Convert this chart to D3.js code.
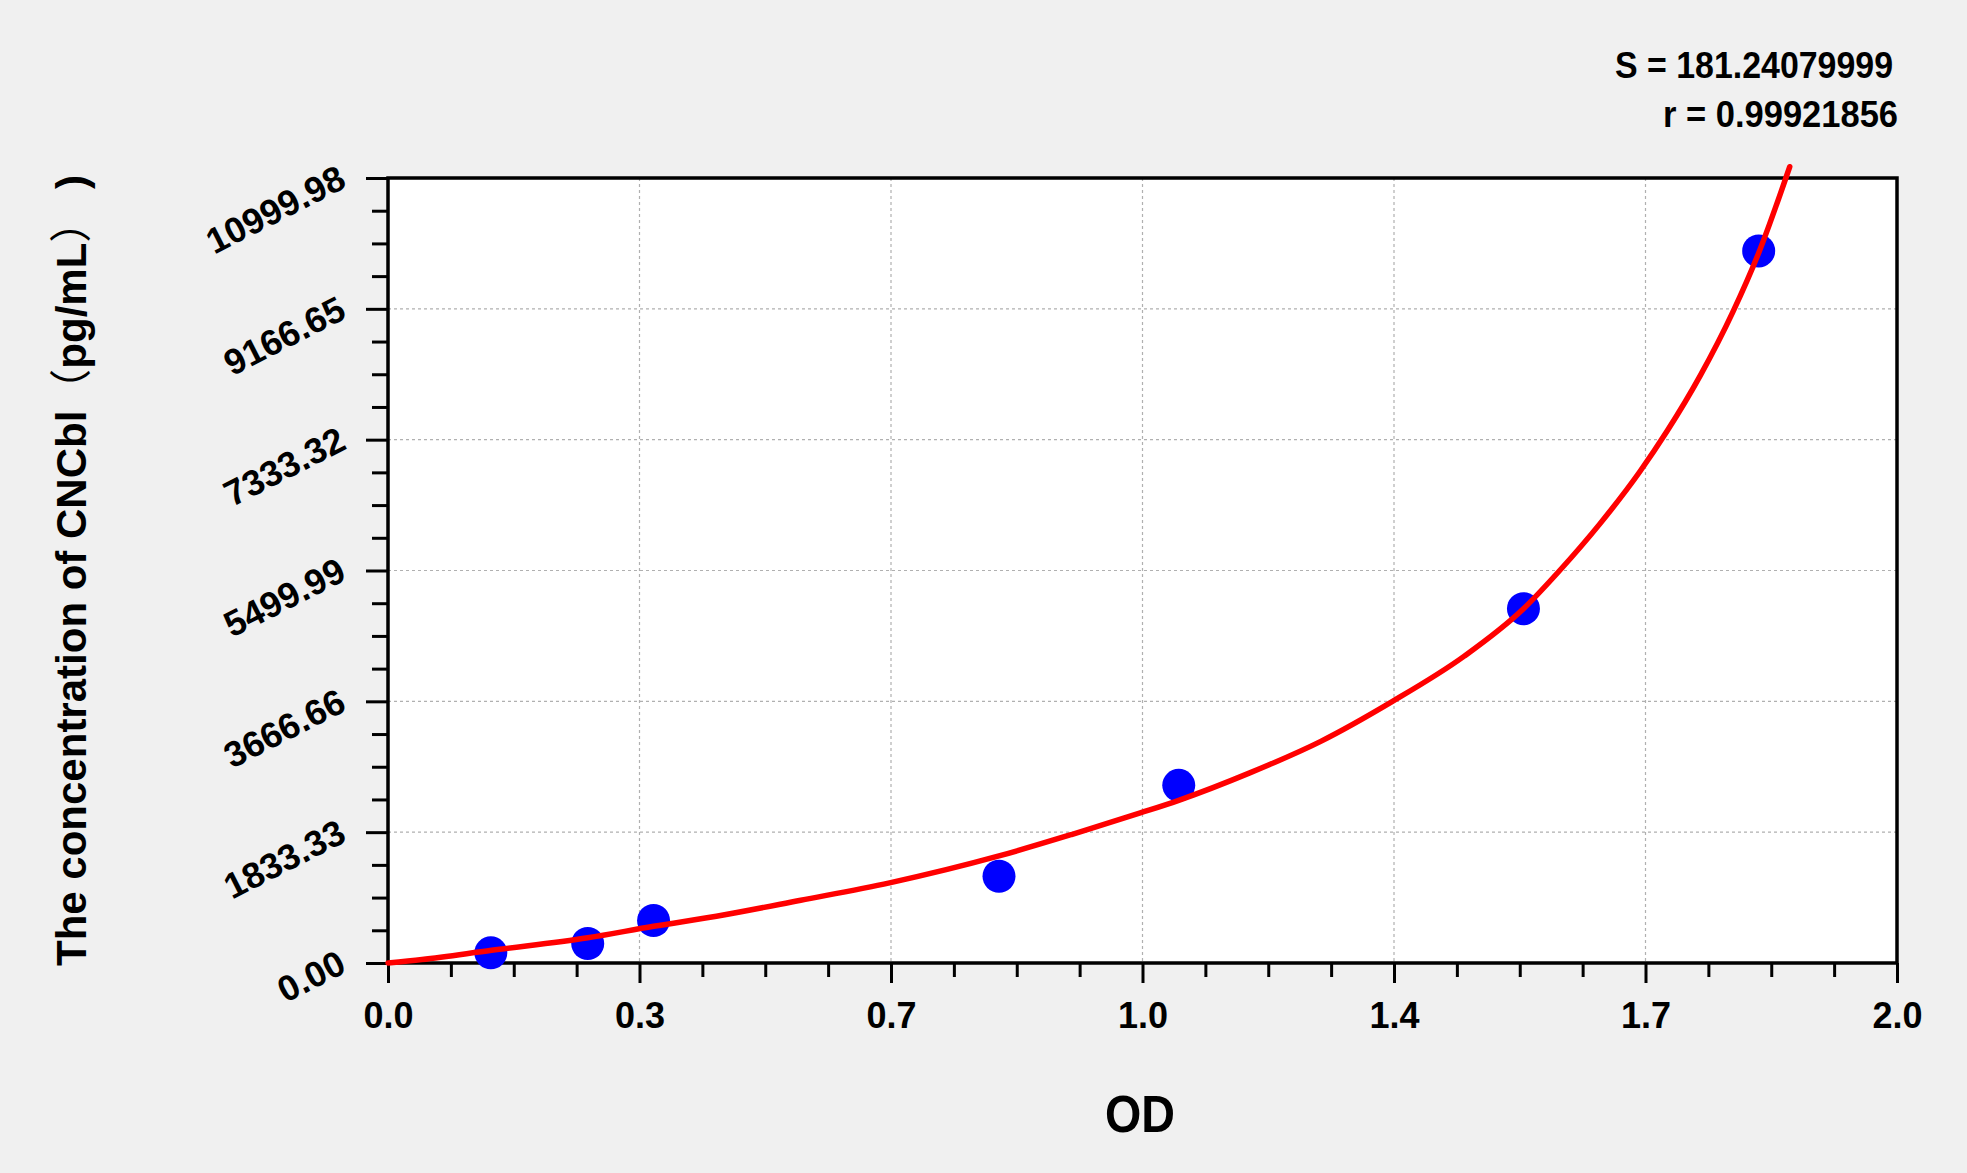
<!DOCTYPE html>
<html>
<head>
<meta charset="utf-8">
<script src="https://cdn.jsdelivr.net/npm/d3@7"></script>
<style>
  body { margin:0; background:#f0f0f0; }
  text { font-family: "Liberation Sans", Arial, sans-serif; font-weight:bold; fill:#000; }
</style>
</head>
<body>
<div class="canvas"></div>
<script>
// standards (OD vs concentration)
const pointOD = [0.139, 0.270, 0.359, 0.826, 1.069, 1.535, 1.853]
const pointConc = [143, 273, 595, 1216, 2490, 4965, 9978]

// fitted curve
const curveOD = [0, 0.046, 0.140, 0.270, 0.359, 0.444, 0.558, 0.678, 0.826, 0.924, 1.017, 1.069, 1.165, 1.261, 1.358, 1.455, 1.535, 1.584, 1.638, 1.692, 1.729, 1.774, 1.818, 1.853, 1.895]
const curveConc = [0, 49, 179, 353, 515, 655, 879, 1123, 1500, 1800, 2103, 2280, 2664, 3106, 3666, 4300, 4964, 5500, 6150, 6880, 7450, 8230, 9120, 9950, 11158]

// ticks
const xTickValues = [0, 0.34, 0.68, 1.02, 1.36, 1.70, 2.04]
const xTickLabels = ['0.0', '0.3', '0.7', '1.0', '1.4', '1.7', '2.0']
const yTickValues = [0, 1833.33, 3666.66, 5499.99, 7333.32, 9166.65, 10999.98]
const yTickLabels = ['0.00', '1833.33', '3666.66', '5499.99', '7333.32', '9166.65', '10999.98']

const statLines = ['S = 181.24079999', 'r = 0.99921856']
const xTitle = 'OD'

const margin = {top:178, right:70, bottom:210, left:388}
const W = 1967, H = 1173
const graphWidth = W - margin.left - margin.right
const graphHeight = H - margin.top - margin.bottom

const svg = d3.select('.canvas').append('svg').attr('width', W).attr('height', H)
svg.append('rect').attr('width', W).attr('height', H).attr('fill', '#f0f0f0')

const graph = svg.append('g').attr('transform', `translate(${margin.left},${margin.top})`)

// scales
const x = d3.scaleLinear().domain([0, 2.04]).range([0, graphWidth])
const y = d3.scaleLinear().domain([0, 10999.98]).range([graphHeight, 0])

// plot background
graph.append('rect').attr('width', graphWidth).attr('height', graphHeight).attr('fill', '#fff')

// dotted grid
graph.append('g').selectAll('line').data(xTickValues.slice(1, -1)).join('line')
  .attr('x1', d => x(d)).attr('x2', d => x(d)).attr('y1', 0).attr('y2', graphHeight)
  .attr('stroke', '#b0b0b0').attr('stroke-width', 1.2).attr('stroke-dasharray', '3,3')
graph.append('g').selectAll('line').data(yTickValues.slice(1, -1)).join('line')
  .attr('y1', d => y(d)).attr('y2', d => y(d)).attr('x1', 0).attr('x2', graphWidth)
  .attr('stroke', '#b0b0b0').attr('stroke-width', 1.2).attr('stroke-dasharray', '3,3')

// minor ticks
const xMinor = []
for (let i = 0; i < xTickValues.length - 1; i++) {
  const step = (xTickValues[i + 1] - xTickValues[i]) / 4
  for (let k = 1; k < 4; k++) xMinor.push(xTickValues[i] + k * step)
}
const yMinor = []
for (let i = 0; i < yTickValues.length - 1; i++) {
  const step = (yTickValues[i + 1] - yTickValues[i]) / 4
  for (let k = 1; k < 4; k++) yMinor.push(yTickValues[i] + k * step)
}

// axes groups
const xAxisGroup = graph.append('g').attr('class', 'x-axis').attr('transform', `translate(0,${graphHeight})`)
const xMinorGroup = graph.append('g').attr('transform', `translate(0,${graphHeight})`)
const yAxisGroup = graph.append('g').attr('class', 'y-axis')
const yMinorGroup = graph.append('g')

xAxisGroup.call(d3.axisBottom(x).tickValues(xTickValues).tickSize(20).tickPadding(30)
  .tickFormat((d, i) => xTickLabels[i]))
xMinorGroup.call(d3.axisBottom(x).tickValues(xMinor).tickSize(14).tickFormat(''))
yAxisGroup.call(d3.axisLeft(y).tickValues(yTickValues).tickSize(22)
  .tickFormat((d, i) => yTickLabels[i]))
yMinorGroup.call(d3.axisLeft(y).tickValues(yMinor).tickSize(16).tickFormat(''))

graph.selectAll('.domain').remove()
graph.selectAll('.tick line').attr('stroke', '#000').attr('stroke-width', 3)

xAxisGroup.selectAll('text').attr('font-size', 36).attr('font-weight', 'bold').attr('fill', '#000')
  .attr('dy', 0).attr('y', 65)

// rotate y labels
yAxisGroup.selectAll('text').attr('font-size', 36).attr('font-weight', 'bold').attr('fill', '#000')
  .attr('x', null).attr('dy', null).attr('text-anchor', 'end')
  .attr('transform', 'translate(-40,8) rotate(-27)')

// frame
graph.append('rect').attr('width', graphWidth).attr('height', graphHeight)
  .attr('fill', 'none').attr('stroke', '#000').attr('stroke-width', 3.5)

// points
graph.append('g').selectAll('circle').data(pointOD).join('circle')
  .attr('cx', d => x(d)).attr('cy', (d, i) => y(pointConc[i])).attr('r', 16.5).attr('fill', '#0000ff')

// curve
const line = d3.line().x(d => x(d[0])).y(d => y(d[1])).curve(d3.curveMonotoneX)
graph.append('path').datum(curveOD.map((d, i) => [d, curveConc[i]]))
  .attr('fill', 'none').attr('stroke', '#ff0000').attr('stroke-width', 5.5)
  .attr('stroke-linecap', 'round').attr('d', line)

// stats text
svg.append('text').attr('x', 1893).attr('y', 78).attr('text-anchor', 'end').attr('font-size', 37)
  .attr('textLength', 278).attr('lengthAdjust', 'spacingAndGlyphs').text(statLines[0])
svg.append('text').attr('x', 1898).attr('y', 127).attr('text-anchor', 'end').attr('font-size', 37)
  .attr('textLength', 235).attr('lengthAdjust', 'spacingAndGlyphs').text(statLines[1])

// axis titles
svg.append('text').attr('x', 1140).attr('y', 1132).attr('text-anchor', 'middle').attr('font-size', 52)
  .attr('textLength', 70).attr('lengthAdjust', 'spacingAndGlyphs').text(xTitle)

const yTitle = svg.append('text').attr('transform', 'translate(86,966) rotate(-90)')
  .attr('text-anchor', 'start').attr('font-size', 42)
yTitle.append('tspan').text('The concentration of CNCbl')
yTitle.append('tspan').attr('font-weight', 'normal').attr('font-family', '"Noto Sans CJK SC"').text('（')
yTitle.append('tspan').text('pg/mL')
yTitle.append('tspan').attr('font-weight', 'normal').attr('font-family', '"Noto Sans CJK SC"').text('）')
yTitle.append('tspan').text(' )')
</script>
</body>
</html>
